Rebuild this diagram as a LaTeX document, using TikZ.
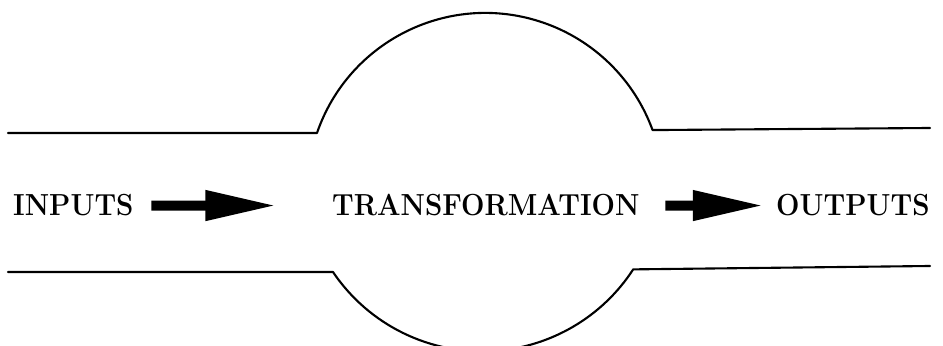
\documentclass[tikz,border=0pt]{standalone}
\usepackage{tikz}
\usetikzlibrary{arrows.meta}

\begin{document}
\begin{tikzpicture}[
	x=0.03cm, y=0.03cm,
	line cap=round,
	line join=round,
	wall/.style={line width=1.8pt},
	stage/.style={font=\bfseries\fontsize{26}{30}\selectfont, xscale=0.91, inner sep=0pt, anchor=base west},
	flow/.style={line width=8.5pt, line cap=butt, -{Triangle[length=61pt, width=24pt]}}
	]
	
	\useasboundingbox (0,0) rectangle (943,346);
	\clip (0,0) rectangle (943,346);
	
	% upper wall with bulge
	\draw[wall] (8,213) -- (317,213) arc[start angle=161, end angle=20, radius=178] -- (930,218);
	
	% lower wall with bulge
	\draw[wall] (8,74) -- (333,74) arc[start angle=214, end angle=327, radius=180] -- (930,80);
	
	% stages
	\node[stage] (inputs) at (13,130) {INPUTS};
	\node[stage] (transformation) at (332,130) {TRANSFORMATION};
	\node[stage] (outputs) at (776,130) {OUTPUTS};
	
	% flow arrows
	\draw[flow, shorten <=15pt, shorten >=47pt] (inputs) -- (transformation);
	\draw[flow, shorten <=22pt, shorten >=10pt] (transformation) -- (outputs);
	
\end{tikzpicture}
\end{document}
